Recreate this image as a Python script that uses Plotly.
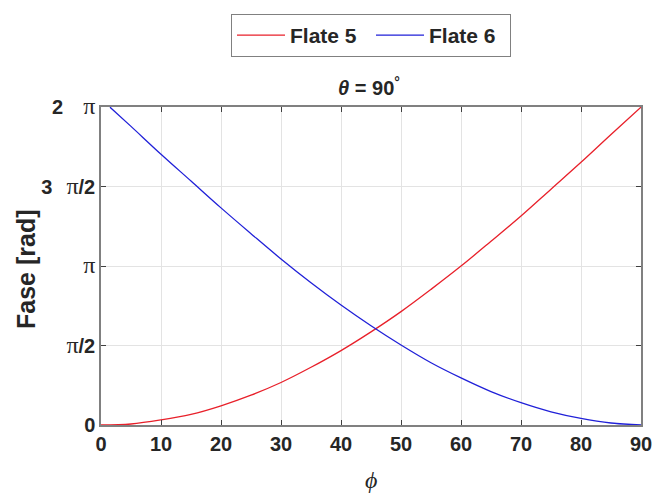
import math
import plotly.graph_objects as go

# Data
phi_red = [0, 5, 10, 15, 20, 25, 30, 35, 40, 45, 50, 55, 60, 65, 70, 75, 80, 85, 90]
fase_red = [0.00, 0.02, 0.10, 0.21, 0.38, 0.59, 0.84, 1.14, 1.47, 1.84, 2.24, 2.68,
            3.14, 3.63, 4.13, 4.66, 5.19, 5.74, 6.28]
phi_blue = [1.5, 5, 10, 15, 20, 25, 30, 35, 40, 45, 50, 55, 60, 65, 70, 75, 80, 85, 90]
fase_blue = [6.28, 5.90, 5.35, 4.82, 4.29, 3.78, 3.28, 2.81, 2.37, 1.96, 1.58, 1.23,
             0.93, 0.66, 0.44, 0.26, 0.13, 0.04, 0.00]

x_ticks = [0, 10, 20, 30, 40, 50, 60, 70, 80, 90]
y_ticks = [0, math.pi / 2, math.pi, 3 * math.pi / 2, 2 * math.pi]
PI = "<span style='font-family:Liberation Serif;font-weight:normal;font-size:24px'>π</span>"
y_ticktext = ["<b>0</b>", f"{PI}<b>/2</b>", PI, f"<b>3\u2002\u2009</b>{PI}<b>/2</b>", f"<b>2\u2003</b>{PI}"]

FONT = "Liberation Sans, Arial, sans-serif"
L, R, T, B = 101, 13, 107, 73
W, H = 654, 498
PW, PH = W - L - R, H - T - B

fig = go.Figure()
fig.add_trace(go.Scatter(x=phi_red, y=fase_red, mode="lines", name="<b>Flate 5</b>",
                         line=dict(color="#e8202a", width=1.3, shape="spline")))
fig.add_trace(go.Scatter(x=phi_blue, y=fase_blue, mode="lines", name="<b>Flate 6</b>",
                         line=dict(color="#2020d8", width=1.3, shape="spline")))

axis_common = dict(showline=True, linecolor="#808080", linewidth=1.5, mirror="allticks",
                   ticks="inside", ticklen=5, tickcolor="#404040", tickwidth=1,
                   showgrid=True, gridcolor="#e3e3e3", gridwidth=1, zeroline=False,
                   automargin=False,
                   tickfont=dict(family=FONT, size=20, color="#262626"))

fig.update_xaxes(range=[0, 90], tickvals=x_ticks, ticktext=[f"<b>{v}</b>" for v in x_ticks],
                 **axis_common)
fig.update_yaxes(range=[0, 2 * math.pi], tickvals=y_ticks, ticktext=y_ticktext,
                 **axis_common)

plot_cx_px = L + PW / 2
fig.add_annotation(text="<i>ϕ</i>", xref="paper", yref="paper",
                   x=0.5, y=-(480 - (H - B)) / PH, xanchor="center", yanchor="middle",
                   showarrow=False,
                   font=dict(family="Liberation Serif", size=24, color="#262626"))
fig.add_annotation(text="<b>Fase [rad]</b>", xref="paper", yref="paper", textangle=-90,
                   x=-(L - 26) / PW, y=1 - (270 - T) / PH, xanchor="center", yanchor="middle",
                   showarrow=False,
                   font=dict(family=FONT, size=25, color="#262626"))

fig.update_layout(
    width=W, height=H,
    margin=dict(l=L, r=R, t=T, b=B),
    paper_bgcolor="white", plot_bgcolor="white",
    title=dict(text="<b><i>θ</i> = 90<sup>°</sup></b>", x=(plot_cx_px - 2) / W, xanchor="center",
               y=1 - 88 / H, yanchor="middle",
               font=dict(family=FONT, size=20, color="#262626")),
    legend=dict(orientation="h", x=0.5, xanchor="center",
                y=1 + (T - 14) / PH, yanchor="top",
                itemwidth=48, entrywidth=76,
                bordercolor="#808080", borderwidth=1, bgcolor="white",
                font=dict(family=FONT, size=21, color="#262626")),
    showlegend=True,
)

fig.write_html("out.html", config={"displayModeBar": False},
               post_script="document.body.style.margin='0';document.body.style.padding='0';")
